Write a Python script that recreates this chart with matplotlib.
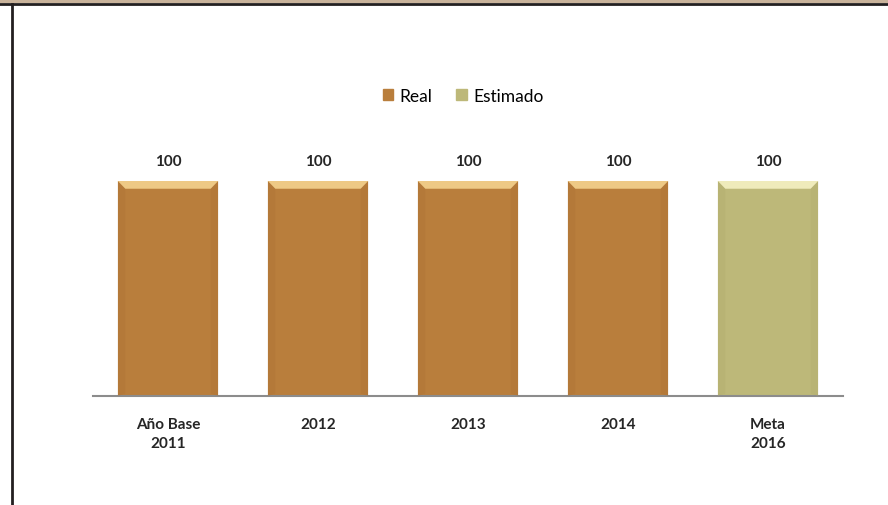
import matplotlib.pyplot as plt
from matplotlib.patches import Polygon, Rectangle
from matplotlib.lines import Line2D

categories = ["Año Base\n2011", "2012", "2013", "2014", "Meta\n2016"]
values = [100, 100, 100, 100, 100]
kinds = ["Real", "Real", "Real", "Real", "Estimado"]

colors = {"Real": "#B97E3C", "Estimado": "#BDB879"}
light = {"Real": "#EEC985", "Estimado": "#EFEBBB"}
dark = {"Real": "#AC7234", "Estimado": "#AFAA6C"}

plt.rcParams['font.family'] = ['Lato', 'DejaVu Sans']

fig = plt.figure(figsize=(8.88, 5.06), dpi=100)

# frame decoration: tan band, dark rule and left border
fig.add_artist(Rectangle((0, 1 - 4 / 506), 1, 4 / 506, transform=fig.transFigure,
                         color="#C9B39B", lw=0))
fig.add_artist(Line2D([0, 1], [1 - 5 / 506, 1 - 5 / 506], transform=fig.transFigure,
                      color="#231F20", lw=2))
fig.add_artist(Line2D([12 / 888, 12 / 888], [0, 1 - 5 / 506], transform=fig.transFigure,
                      color="#231F20", lw=2))

ax = fig.add_axes([93 / 888, 1 - 397 / 506, 750 / 888, 258 / 506])
x = list(range(len(categories)))
w = 0.67
ax.bar(x, values, width=w, color=[colors[k] for k in kinds], zorder=2)

# bevel effect on each bar
bev_x = 0.05
bev_y = 3.6
for xi, v, k in zip(x, values, kinds):
    l, r = xi - w / 2, xi + w / 2
    ax.add_patch(Polygon([(l, v), (r, v), (r - bev_x, v - bev_y), (l + bev_x, v - bev_y)],
                         closed=True, color=light[k], lw=0, zorder=3))
    ax.add_patch(Polygon([(l, v), (l + bev_x, v - bev_y), (l + bev_x, bev_y * 0.3), (l, 0)],
                         closed=True, color=dark[k], lw=0, zorder=3, alpha=0.35))
    ax.add_patch(Polygon([(r, v), (r - bev_x, v - bev_y), (r - bev_x, bev_y * 0.3), (r, 0)],
                         closed=True, color=dark[k], lw=0, zorder=3, alpha=0.35))
    ax.text(xi, v + 6, str(v), ha="center", va="bottom", fontsize=11,
            fontweight="bold", color="#262626")

ax.set_xlim(-0.5, len(categories) - 0.5)
ax.set_ylim(0, 120)
ax.set_yticks([])
ax.set_xticks(x)
ax.set_xticklabels(categories, fontsize=11, fontweight="bold", color="#262626",
                   linespacing=1.45)
ax.tick_params(axis="x", length=0, pad=15)
for s in ["top", "right", "left"]:
    ax.spines[s].set_visible(False)
ax.spines["bottom"].set_color("#8C8C8C")
ax.spines["bottom"].set_linewidth(1.5)

handles = [Rectangle((0, 0), 1, 1, color=colors["Real"]),
           Rectangle((0, 0), 1, 1, color=colors["Estimado"])]
fig.legend(handles, ["Real", "Estimado"], loc="center", bbox_to_anchor=(463 / 888, 1 - 97 / 506),
           ncol=2, frameon=False, fontsize=12.5, handlelength=0.6, handleheight=0.6,
           handletextpad=0.35, columnspacing=1.4)

fig.savefig("out.png", dpi=100)
